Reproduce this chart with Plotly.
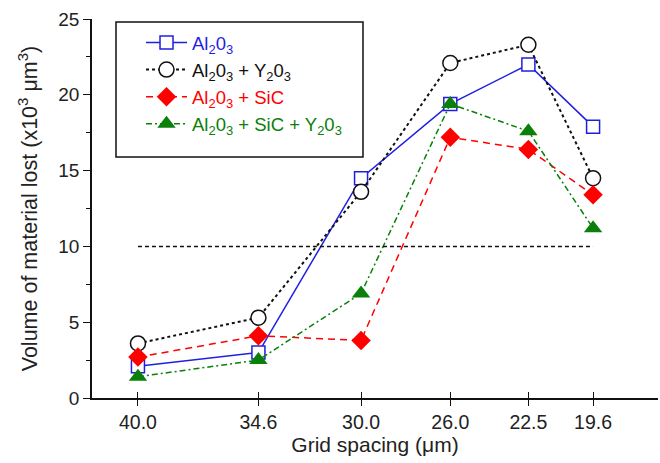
import plotly.graph_objects as go

grid_spacing = [40.0, 34.6, 30.0, 26.0, 22.5, 19.6]
tick_labels = ["40.0", "34.6", "30.0", "26.0", "22.5", "19.6"]

al2o3 = [2.1, 3.0, 14.5, 19.4, 22.0, 17.9]
al2o3_y2o3 = [3.6, 5.3, 13.6, 22.1, 23.3, 14.5]
al2o3_sic = [2.7, 4.1, 3.8, 17.2, 16.4, 13.4]
al2o3_sic_y2o3 = [1.4, 2.5, 6.9, 19.4, 17.6, 11.2]

ref_x = [40.0, 19.6]
ref_y = [10, 10]

names = [
    "Al<sub>2</sub>0<sub>3</sub>",
    "Al<sub>2</sub>0<sub>3</sub> + Y<sub>2</sub>0<sub>3</sub>",
    "Al<sub>2</sub>0<sub>3</sub> + SiC",
    "Al<sub>2</sub>0<sub>3</sub> + SiC + Y<sub>2</sub>0<sub>3</sub>",
]
BLUE = "#1f1fe0"
RED = "#ff0000"
GREEN = "#0a800a"
BLACK = "#111111"

fig = go.Figure()

fig.add_trace(go.Scatter(
    x=ref_x, y=ref_y, mode="lines", xaxis="x2", showlegend=False,
    line=dict(color=BLACK, width=1.5, dash="4px,3px"), hoverinfo="skip"))

fig.add_trace(go.Scatter(
    x=grid_spacing, y=al2o3, mode="lines+markers",
    name=f'<span style="color:{BLUE}">{names[0]}</span>',
    line=dict(color=BLUE, width=1.5),
    marker=dict(symbol="square", size=13, color="white", line=dict(color=BLUE, width=1.5))))

fig.add_trace(go.Scatter(
    x=grid_spacing, y=al2o3_y2o3, mode="lines+markers",
    name=f'<span style="color:{BLACK}">{names[1]}</span>',
    line=dict(color=BLACK, width=2, dash="dot"),
    marker=dict(symbol="circle", size=15, color="white", line=dict(color=BLACK, width=1.5))))

fig.add_trace(go.Scatter(
    x=grid_spacing, y=al2o3_sic, mode="lines+markers",
    name=f'<span style="color:{RED}">{names[2]}</span>',
    line=dict(color=RED, width=1.5, dash="7px,5px"),
    marker=dict(symbol="diamond", size=15, color=RED, line=dict(width=0))))

fig.add_trace(go.Scatter(
    x=grid_spacing, y=al2o3_sic_y2o3, mode="lines+markers",
    name=f'<span style="color:{GREEN}">{names[3]}</span>',
    line=dict(color=GREEN, width=1.5, dash="6px,3px,2px,3px"),
    marker=dict(symbol="triangle-up", size=16, color=GREEN, line=dict(width=0))))

xr = [42.06, 16.69]
fig.update_layout(
    width=660, height=463,
    margin=dict(l=92, r=2, t=19, b=65),
    paper_bgcolor="white", plot_bgcolor="white",
    font=dict(family="Liberation Sans, Arial, sans-serif", size=18, color="#222"),
    showlegend=True,
    legend=dict(x=0.0866, y=0.9868, xanchor="left", yanchor="top",
                borderwidth=0, bgcolor="rgba(0,0,0,0)",
                font=dict(size=18.5), itemwidth=41, tracegroupgap=0),
    shapes=[dict(type="rect", xref="paper", yref="paper",
                 x0=0.0424, x1=0.4788, y0=0.636, y1=0.992,
                 line=dict(color=BLACK, width=1.5), fillcolor="rgba(0,0,0,0)",
                 layer="above")],
    xaxis=dict(range=xr, tickvals=grid_spacing, ticktext=tick_labels,
               automargin=False,
               showline=True, linecolor=BLACK, linewidth=1.5,
               ticks="outside", ticklen=6, tickwidth=1.2, tickcolor=BLACK,
               showgrid=False, zeroline=False,
               title=dict(text="Grid spacing (μm)", font=dict(size=21), standoff=4),
               tickfont=dict(size=19.5)),
    xaxis2=dict(range=xr, overlaying="x", anchor="y", tickvals=grid_spacing,
                showticklabels=False, ticks="inside", ticklen=6, tickwidth=1.2,
                tickcolor=BLACK, showline=False, showgrid=False, zeroline=False),
    yaxis=dict(range=[0, 25], tickvals=[0, 5, 10, 15, 20, 25],
               automargin=False,
               showline=True, linecolor=BLACK, linewidth=1.5,
               ticks="outside", ticklen=7, tickwidth=1.2, tickcolor=BLACK,
               minor=dict(dtick=2.5, ticks="outside", ticklen=4, tickwidth=1.2, tickcolor=BLACK, showgrid=False),
               showgrid=False, zeroline=False,
               title=dict(text="Volume of material lost (x10<sup>3</sup> μm<sup>3</sup>)", font=dict(size=21.5)),
               tickfont=dict(size=19)),
)

fig.write_html("out.html", config={"displayModeBar": False},
               post_script="document.body.style.margin='0';")
